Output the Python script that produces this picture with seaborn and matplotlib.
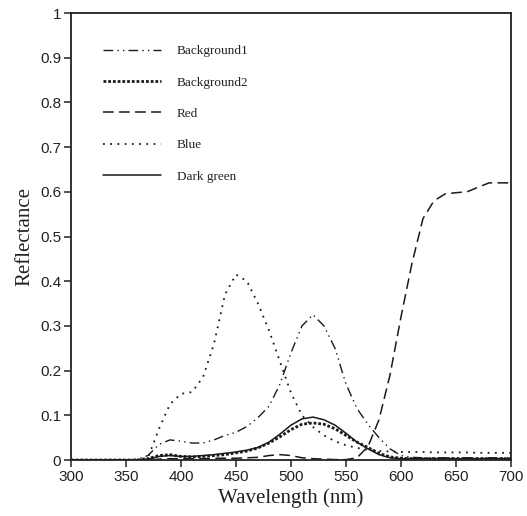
import numpy as np
import pandas as pd
import matplotlib
matplotlib.use("Agg")
import matplotlib.pyplot as plt
import seaborn as sns

wavelength = [300, 310, 320, 330, 340, 350, 360, 370, 380, 390, 400, 410, 420, 430, 440,
              450, 460, 470, 480, 490, 500, 510, 520, 530, 540, 550, 560, 570, 580, 590,
              600, 610, 620, 630, 640, 650, 660, 670, 680, 690, 700]

background1 = [0, 0, 0, 0, 0, 0, 0.002, 0.01, 0.035, 0.045, 0.042, 0.038, 0.038, 0.045, 0.055,
               0.062, 0.075, 0.095, 0.12, 0.17, 0.24, 0.30, 0.325, 0.30, 0.25, 0.17, 0.115, 0.08,
               0.05, 0.025, 0.01, 0.006, 0.005, 0.005, 0.005, 0.005, 0.005, 0.005, 0.005, 0.005, 0.005]

background2 = [0, 0, 0, 0, 0, 0, 0, 0.003, 0.01, 0.012, 0.008, 0.007, 0.008, 0.01, 0.012,
               0.016, 0.02, 0.027, 0.038, 0.052, 0.068, 0.08, 0.083, 0.08, 0.07, 0.055, 0.04, 0.028,
               0.015, 0.007, 0.004, 0.003, 0.003, 0.003, 0.003, 0.003, 0.003, 0.003, 0.003, 0.003, 0.003]

red = [0, 0, 0, 0, 0, 0, 0, 0, 0.002, 0.003, 0.003, 0.003, 0.003, 0.004, 0.004,
       0.004, 0.005, 0.006, 0.01, 0.012, 0.01, 0.005, 0.003, 0.002, 0.001, 0.001, 0.005, 0.03,
       0.09, 0.19, 0.32, 0.44, 0.54, 0.58, 0.595, 0.598, 0.60, 0.61, 0.62, 0.62, 0.62]

blue = [0, 0, 0, 0, 0, 0, 0, 0.005, 0.07, 0.125, 0.148, 0.152, 0.185, 0.26, 0.37,
        0.415, 0.40, 0.35, 0.29, 0.22, 0.15, 0.10, 0.074, 0.055, 0.042, 0.033, 0.027, 0.023,
        0.02, 0.019, 0.018, 0.018, 0.018, 0.017, 0.017, 0.017, 0.017, 0.016, 0.016, 0.016, 0.016]

dark_green = [0, 0, 0, 0, 0, 0, 0, 0.002, 0.008, 0.01, 0.008, 0.008, 0.01, 0.012, 0.015,
              0.018, 0.022, 0.028, 0.04, 0.058, 0.078, 0.092, 0.096, 0.09, 0.078, 0.06, 0.04, 0.025,
              0.012, 0.005, 0.003, 0.003, 0.003, 0.003, 0.003, 0.003, 0.003, 0.003, 0.003, 0.003, 0.003]

series_names = ["Background1", "Background2", "Red", "Blue", "Dark green"]
series_values = [background1, background2, red, blue, dark_green]

x_ticks = [300, 350, 400, 450, 500, 550, 600, 650, 700]
y_ticks = [0, 0.1, 0.2, 0.3, 0.4, 0.5, 0.6, 0.7, 0.8, 0.9, 1]
y_tick_labels = ["0", "0.1", "0.2", "0.3", "0.4", "0.5", "0.6", "0.7", "0.8", "0.9", "1"]

sns.set_theme(style="ticks")
plt.rcParams["font.family"] = ["Liberation Sans", "DejaVu Sans"]

styles = {
    "Background1": dict(linestyle=(0, (7, 3, 1, 3, 1, 3)), linewidth=1.0),
    "Background2": dict(linestyle=(0, (1, 0.7)), linewidth=2.0),
    "Red": dict(linestyle=(0, (7, 3.5)), linewidth=1.1),
    "Blue": dict(linestyle=(0, (1, 3)), linewidth=1.3),
    "Dark green": dict(linestyle="-", linewidth=1.1),
}

fig = plt.figure(figsize=(5.27, 5.16), dpi=100)
ax = fig.add_axes([0.1347, 0.1085, 0.8349, 0.8663])

for name, vals in zip(series_names, series_values):
    df = pd.DataFrame({"wl": wavelength, "r": vals})
    sns.lineplot(data=df, x="wl", y="r", ax=ax, color="#1a1a1a", label=name,
                 **styles[name])

ax.set_xlim(300, 700)
ax.set_ylim(0, 1)
ax.set_xticks(x_ticks)
ax.set_yticks(y_ticks)
ax.set_yticklabels(y_tick_labels)
ax.tick_params(axis="both", direction="out", length=5, width=1.1, labelsize=11,
               colors="#222222", pad=2)

for s in ax.spines.values():
    s.set_visible(True)
    s.set_linewidth(1.3)
    s.set_color("#222222")

ax.set_xlabel("Wavelength (nm)", family=["Liberation Serif"], fontsize=15,
              color="#222222", labelpad=3)
ax.set_ylabel("Reflectance", family=["Liberation Serif"], fontsize=15,
              color="#222222", labelpad=4)

leg = ax.legend(loc="upper left", bbox_to_anchor=(0.045, 0.955), frameon=False,
                labelspacing=1.45, handlelength=4.4, handletextpad=1.2,
                prop={"family": "Liberation Serif", "size": 9.5})
for t in leg.get_texts():
    t.set_color("#222222")

fig.savefig("out.png", dpi=100)
